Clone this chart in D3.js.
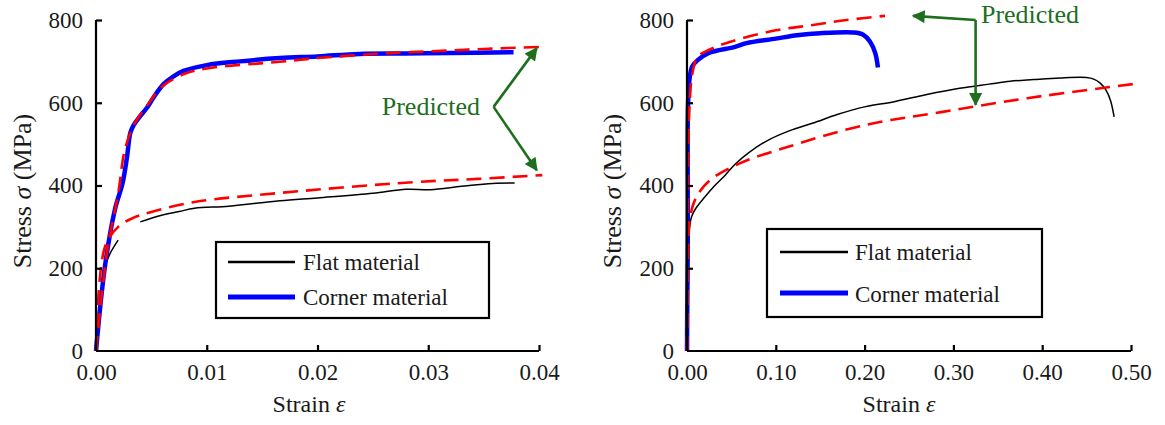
<!DOCTYPE html>
<html>
<head>
<meta charset="utf-8">
<script src="https://cdn.jsdelivr.net/npm/d3@7"></script>
<style>
  html, body { margin: 0; padding: 0; background: #fff; }
  svg { display: block; }
  text { font-family: "Liberation Serif", "Times New Roman", "DejaVu Serif", serif; fill: #1a1a1a; }
</style>
</head>
<body>
<svg id="chart" width="1165" height="425"></svg>
<script>
// ---- Data: [strain, stress (MPa)] ----
// Left panel: small-strain range
const leftFlatInitial = [[0,0],[0.0008,203],[0.0013,237],[0.002,268]];
const leftFlat = [[0.004,312],[0.0055,325],[0.0075,337],[0.0089,345],[0.012,350],[0.0166,363],
  [0.02,370],[0.025,381],[0.028,391],[0.0302,390],[0.033,398],[0.0358,405],[0.0378,406]];
const leftCorner = [[0,0],[0.0008,203],[0.0017,341],[0.0024,406],[0.0028,469],[0.0031,527],
  [0.0034,546],[0.004,568],[0.0046,588],[0.0053,617],[0.0061,645],[0.007,664],[0.0079,677],
  [0.01,691],[0.013,700],[0.0166,708],[0.02,712],[0.0238,718],[0.028,719],[0.032,720],[0.0377,722]];
const leftCornerPred = [[0,0],[0.001,240],[0.002,380],[0.0026,486],[0.0035,550],[0.0048,600],
  [0.006,640],[0.008,670],[0.01,683],[0.0166,699],[0.02,708],[0.0265,720],[0.03,724],
  [0.035,730],[0.0403,735]];
const leftFlatPred = [[0,0],[0.0008,251],[0.002,300],[0.0033,321],[0.005,336],[0.0089,360],
  [0.0166,382],[0.0286,408],[0.0345,416],[0.0403,425]];

// Right panel: full range to fracture
const rightFlat = [[0,0],[0.0015,150],[0.003,300],[0.005,324],[0.01,345],[0.02,372],[0.03,397],
  [0.043,425],[0.055,453],[0.07,480],[0.09,508],[0.115,532],[0.142,551],[0.17,572],[0.2,590],
  [0.232,602],[0.27,620],[0.307,635],[0.34,645],[0.364,652],[0.39,656],[0.42,660],[0.45,661],
  [0.458,657],[0.465,648],[0.472,630],[0.477,605],[0.481,566]];
const rightCorner = [[0,0],[0.0008,300],[0.0012,600],[0.003,660],[0.006,688],[0.012,703],
  [0.024,720],[0.054,735],[0.067,744],[0.1,755],[0.124,763],[0.15,768],[0.187,770],
  [0.198,765],[0.206,748],[0.212,720],[0.215,685]];
const rightCornerPred = [[0,0],[0.0008,300],[0.0018,520],[0.003,600],[0.006,670],[0.012,711],
  [0.025,728],[0.048,747],[0.1,775],[0.142,788],[0.18,800],[0.223,810]];
const rightFlatPred = [[0,0],[0.0015,250],[0.003,317],[0.01,370],[0.026,413],[0.06,454],
  [0.113,493],[0.2,546],[0.288,578],[0.383,611],[0.502,645]];

// Axis ticks
const stressTicks = [0, 200, 400, 600, 800];
const leftStrainTicks = [0, 0.01, 0.02, 0.03, 0.04];
const rightStrainTicks = [0, 0.1, 0.2, 0.3, 0.4, 0.5];

// Legend entries and annotation
const legendLabels = ["Flat material", "Corner material"];
const predictedLabel = "Predicted";
// annotation anchor points [strain, stress]
const leftNote = { text: [0.0258, 570], vertex: [0.0359, 590], tips: [[0.0398, 732], [0.0398, 437]] };
const rightNote = { text: [0.331, 793], vertex: [0.325, 800], tips: [[0.2545, 810], [0.325, 595]] };

const svg = d3.select("#chart");
const GREEN = "#1d6e1d";
const SERIF = "'Liberation Serif', 'Times New Roman', serif";

svg.append("defs").append("marker")
  .attr("id", "arrow").attr("viewBox", "0 0 10 10")
  .attr("refX", 9).attr("refY", 5)
  .attr("markerWidth", 5.5).attr("markerHeight", 5)
  .attr("markerUnits", "strokeWidth")
  .attr("orient", "auto")
  .append("path").attr("d", "M0,0 L10,5 L0,10 Z").attr("fill", GREEN);

function drawPanel(p) {
  const x = d3.scaleLinear().domain(p.xDomain).range([p.x0, p.x1]);
  const y = d3.scaleLinear().domain([0, 800]).range([351, 20]);
  const g = svg.append("g").style("font-family", SERIF);

  const line = d3.line().x(d => x(d[0])).y(d => y(d[1])).curve(d3.curveCatmullRom.alpha(0.5));

  // measured curves
  p.flat.forEach(seg => g.append("path").attr("d", line(seg))
    .attr("fill", "none").attr("stroke", "#000").attr("stroke-width", 1.5));
  g.append("path").attr("d", line(p.corner))
    .attr("fill", "none").attr("stroke", "#0000ff").attr("stroke-width", 4.5)
    .attr("stroke-linejoin", "round");
  // predicted curves
  p.pred.forEach(seg => g.append("path").attr("d", line(seg))
    .attr("fill", "none").attr("stroke", "#ff0000").attr("stroke-width", 2.6)
    .attr("stroke-dasharray", "15,8"));

  // axes
  const xAxis = d3.axisBottom(x).tickValues(p.xTicks).tickSize(-6).tickPadding(13)
    .tickFormat(p.xFormat);
  const yAxis = d3.axisLeft(y).tickValues(stressTicks).tickSize(-6).tickPadding(13)
    .tickFormat(d3.format("d"));
  const gx = g.append("g").attr("transform", "translate(0,351)").call(xAxis);
  const gy = g.append("g").attr("transform", `translate(${p.x0},0)`).call(yAxis);
  [gx, gy].forEach(a => {
    a.attr("font-family", null).attr("font-size", null);
    a.select(".domain").attr("stroke", "#000").attr("stroke-width", 2.2);
    a.selectAll(".tick line").attr("stroke", "#000").attr("stroke-width", 2.2);
    a.selectAll(".tick text").style("font-family", SERIF)
      .style("font-size", "23px").attr("fill", "#1a1a1a");
  });
  gx.select(".domain").attr("d", `M${p.x0},0H${p.x1}`);
  gy.select(".domain").attr("d", `M0,351V20`);
  gy.selectAll(".tick").filter(d => d === 0).select("line").remove();
  gx.selectAll(".tick").filter(d => d === 0).select("line").remove();

  // axis titles
  const xt = g.append("text").attr("x", p.xTitleX).attr("y", 412)
    .attr("text-anchor", "middle").style("font-size", "24px");
  xt.append("tspan").text("Strain ");
  xt.append("tspan").attr("font-style", "italic").text("ε");
  const yt = g.append("text").attr("transform", `translate(${p.yTitleX},191) rotate(-90)`)
    .attr("text-anchor", "middle").style("font-size", "26px");
  yt.append("tspan").text("Stress ");
  yt.append("tspan").attr("font-style", "italic").text("σ");
  yt.append("tspan").text(" (MPa)");

  // legend
  const L = p.legend;
  g.append("rect").attr("x", L.x).attr("y", L.y).attr("width", L.w).attr("height", L.h)
    .attr("fill", "#fff").attr("stroke", "#000").attr("stroke-width", 2.2);
  const legStyles = [{ c: "#000", w: 2.6 }, { c: "#0000ff", w: 5 }];
  legendLabels.forEach((lab, i) => {
    g.append("line").attr("x1", L.lx0).attr("x2", L.lx1).attr("y1", L.ly[i]).attr("y2", L.ly[i])
      .attr("stroke", legStyles[i].c).attr("stroke-width", legStyles[i].w);
    g.append("text").attr("x", L.tx).attr("y", L.ty[i]).style("font-size", "23px").text(lab);
  });

  // "Predicted" annotation
  const n = p.note;
  g.append("text").attr("x", x(n.text[0])).attr("y", y(n.text[1]))
    .style("font-size", "26px").style("fill", GREEN).text(predictedLabel);
  n.tips.forEach(t => {
    g.append("line").attr("x1", x(n.vertex[0])).attr("y1", y(n.vertex[1]))
      .attr("x2", x(t[0])).attr("y2", y(t[1]))
      .attr("stroke", GREEN).attr("stroke-width", 2.6).attr("marker-end", "url(#arrow)");
  });
}

drawPanel({
  xDomain: [0, 0.04], x0: 96, x1: 539, xTicks: leftStrainTicks, xFormat: d3.format(".2f"),
  flat: [leftFlatInitial, leftFlat], corner: leftCorner, pred: [leftCornerPred, leftFlatPred],
  xTitleX: 309, yTitleX: 31,
  legend: { x: 216, y: 242, w: 273, h: 76, lx0: 228, lx1: 295, ly: [262, 297], tx: 303, ty: [270, 305] },
  note: leftNote
});

drawPanel({
  xDomain: [0, 0.5], x0: 687, x1: 1131, xTicks: rightStrainTicks, xFormat: d3.format(".2f"),
  flat: [rightFlat], corner: rightCorner, pred: [rightCornerPred, rightFlatPred],
  xTitleX: 899, yTitleX: 621,
  legend: { x: 767, y: 229, w: 275, h: 88, lx0: 780, lx1: 848, ly: [252, 293], tx: 855, ty: [260, 302] },
  note: rightNote
});
</script>
</body>
</html>
